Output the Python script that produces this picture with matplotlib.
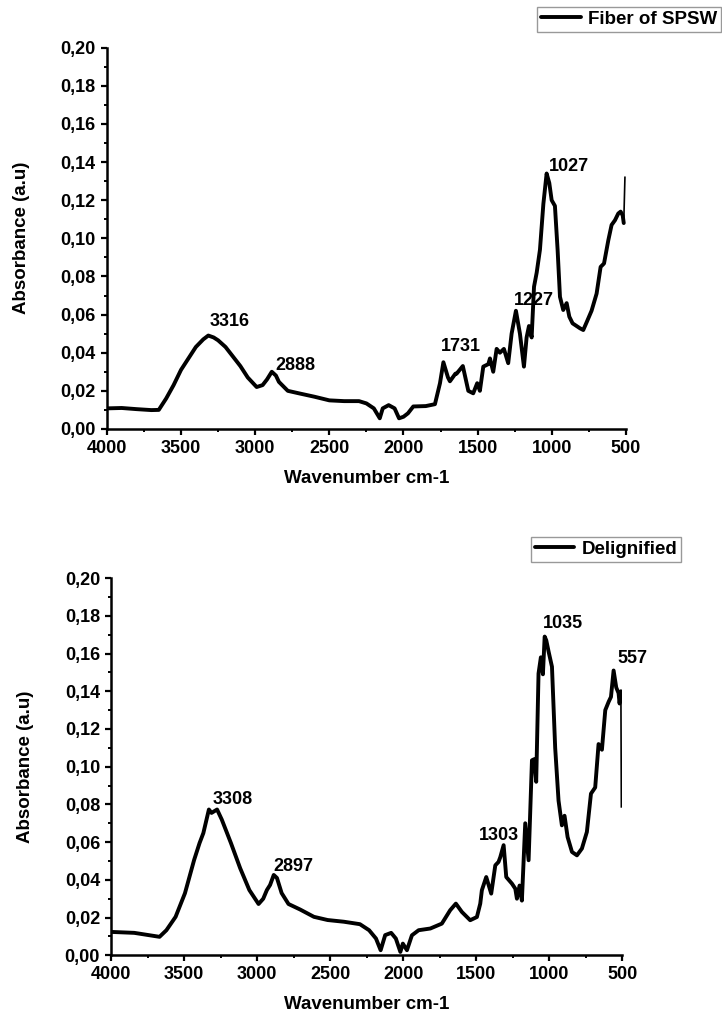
import numpy as np
import matplotlib
matplotlib.use('Agg')
import matplotlib.pyplot as plt
from matplotlib.ticker import MultipleLocator, FuncFormatter

plt.rcParams['font.family'] = ['Liberation Sans', 'DejaVu Sans']
plt.rcParams['font.weight'] = 'bold'

# Fiber of SPSW spectrum (wavenumber, absorbance)
fiber_wn = [4000, 3900, 3800, 3700, 3650, 3600, 3550, 3500, 3450, 3400, 3350, 3316, 3280, 3250,
            3200, 3150, 3100, 3050, 2990, 2950, 2920, 2888, 2860, 2840, 2780, 2700, 2600, 2500,
            2400, 2300, 2250, 2200, 2160, 2140, 2100, 2060, 2030, 2000, 1970, 1934, 1850, 1788,
            1754, 1731, 1700, 1687, 1650, 1642, 1600, 1563, 1530, 1503, 1485, 1462, 1428, 1417,
            1395, 1372, 1350, 1323, 1294, 1271, 1242, 1215, 1188, 1170, 1154, 1136, 1120, 1102,
            1080, 1057, 1035, 1017, 1001, 979, 961, 945, 923, 900, 882, 860, 810, 788, 765, 732,
            698, 671, 648, 619, 597, 574, 552, 536, 522, 515, 507]
fiber_abs = [0.0108, 0.0110, 0.0104, 0.0099, 0.0100, 0.016, 0.023, 0.031, 0.037, 0.043, 0.047,
             0.049, 0.048, 0.0465, 0.043, 0.038, 0.033, 0.027, 0.022, 0.023, 0.026, 0.030, 0.028,
             0.0247, 0.020, 0.0186, 0.0169, 0.015, 0.0146, 0.0146, 0.0134, 0.0108, 0.0056, 0.0108,
             0.0125, 0.0108, 0.0056, 0.0064, 0.0082, 0.0118, 0.012, 0.013, 0.024, 0.035, 0.027,
             0.025, 0.029, 0.029, 0.033, 0.020, 0.0187, 0.024, 0.020, 0.0327, 0.034, 0.037, 0.030,
             0.042, 0.040, 0.042, 0.0345, 0.050, 0.062, 0.050, 0.0327, 0.048, 0.054, 0.048, 0.0746,
             0.082, 0.094, 0.118, 0.134, 0.129, 0.120, 0.117, 0.094, 0.0693, 0.0624, 0.066, 0.0589,
             0.0554, 0.0528, 0.0519, 0.056, 0.062, 0.071, 0.085, 0.0868, 0.099, 0.107, 0.1095,
             0.113, 0.114, 0.112, 0.108, 0.132]
fiber_peaks = ['3316', '2888', '1731', '1227', '1027']
fiber_peak_pos = [(3310, 0.052), (2864, 0.029), (1747, 0.039), (1256, 0.063), (1017, 0.133)]

# Delignified spectrum
delig_wn = [4000, 3842, 3669, 3622, 3559, 3495, 3432, 3395, 3369, 3331, 3313, 3275, 3243, 3180,
            3117, 3054, 2991, 2959, 2934, 2912, 2887, 2865, 2833, 2786, 2707, 2612, 2518, 2407,
            2297, 2234, 2187, 2155, 2124, 2083, 2051, 2020, 2003, 1975, 1941, 1895, 1815, 1736,
            1679, 1640, 1599, 1542, 1496, 1473, 1462, 1432, 1398, 1370, 1348, 1336, 1313, 1295,
            1256, 1233, 1222, 1204, 1188, 1165, 1142, 1119, 1103, 1090, 1074, 1058, 1044, 1032,
            1021, 1005, 982, 960, 937, 914, 896, 875, 845, 811, 777, 743, 715, 686, 663, 640, 617,
            594, 578, 560, 542, 526, 519, 510, 507]
delig_abs = [0.0124, 0.0119, 0.0098, 0.0133, 0.0204, 0.0329, 0.0506, 0.0595, 0.0648, 0.0773,
             0.0755, 0.0773, 0.072, 0.0595, 0.0462, 0.0346, 0.0272, 0.030, 0.0346, 0.0373, 0.0426,
             0.041, 0.033, 0.0272, 0.0243, 0.0204, 0.0187, 0.0178, 0.0165, 0.0133, 0.0089, 0.0027,
             0.0107, 0.0119, 0.0089, 0.0018, 0.0062, 0.0027, 0.0106, 0.0133, 0.0142, 0.0168,
             0.0239, 0.0274, 0.023, 0.0186, 0.0203, 0.0274, 0.0345, 0.0415, 0.0327, 0.0477, 0.0495,
             0.052, 0.0584, 0.0415, 0.038, 0.0353, 0.030, 0.037, 0.029, 0.070, 0.0504, 0.1034,
             0.104, 0.092, 0.1494, 0.158, 0.149, 0.169, 0.167, 0.161, 0.153, 0.110, 0.082, 0.0689,
             0.074, 0.0627, 0.0548, 0.053, 0.0566, 0.0654, 0.0857, 0.089, 0.112, 0.109, 0.130,
             0.1344, 0.137, 0.151, 0.142, 0.139, 0.1335, 0.140, 0.0787]
delig_peaks = ['3308', '2897', '1303', '1035', '557']
delig_peak_pos = [(3306, 0.078), (2887, 0.0426), (1485, 0.0592), (1046, 0.1715), (537, 0.153)]

comma = FuncFormatter(lambda v, p: f"{v:.2f}".replace('.', ','))

fig = plt.figure(figsize=(7.22, 10.25), dpi=100)
ax1 = fig.add_axes([0.148, 0.5815, 0.719, 0.372])
ax2 = fig.add_axes([0.154, 0.068, 0.708, 0.368])


def draw(ax, wn, ab, name, peaks, peak_pos, anchor):
    ax.plot(wn[:-1], ab[:-1], color='black', lw=2.8, label=name,
            solid_joinstyle='round', solid_capstyle='round')
    ax.plot(wn[-2:], ab[-2:], color='black', lw=1.2)
    for txt, (x, y) in zip(peaks, peak_pos):
        ax.text(x, y, txt, fontsize=13, fontweight='bold', ha='left', va='bottom')
    ax.set_xlim(4000, 500)
    ax.set_ylim(0, 0.20)
    ax.xaxis.set_major_locator(MultipleLocator(500))
    ax.xaxis.set_minor_locator(MultipleLocator(250))
    ax.yaxis.set_major_locator(MultipleLocator(0.02))
    ax.yaxis.set_minor_locator(MultipleLocator(0.01))
    ax.yaxis.set_major_formatter(comma)
    ax.spines['top'].set_visible(False)
    ax.spines['right'].set_visible(False)
    ax.spines['left'].set_linewidth(1.8)
    ax.spines['bottom'].set_linewidth(1.8)
    ax.tick_params(which='major', direction='out', length=4.5, width=1.6, labelsize=13)
    ax.tick_params(which='minor', direction='out', length=2.5, width=1.4)
    ax.set_xlabel('Wavenumber cm-1', fontsize=13.5, fontweight='bold', labelpad=9)
    ax.set_ylabel('Absorbance (a.u)', fontsize=13.5, fontweight='bold', labelpad=22)
    leg = fig.legend(handles=[ax.lines[0]], loc='upper right', bbox_to_anchor=anchor,
                     fontsize=13.5, frameon=True, fancybox=False, handlelength=2.1,
                     handletextpad=0.4, borderpad=0.2, borderaxespad=0)
    leg.get_frame().set_edgecolor('#808080')
    leg.get_frame().set_linewidth(1.0)


draw(ax1, fiber_wn, fiber_abs, 'Fiber of SPSW', fiber_peaks, fiber_peak_pos, (721 / 722, 1 - 7 / 1025))
draw(ax2, delig_wn, delig_abs, 'Delignified', delig_peaks, delig_peak_pos, (681 / 722, 1 - 537 / 1025))

fig.savefig('out.png', dpi=100)
